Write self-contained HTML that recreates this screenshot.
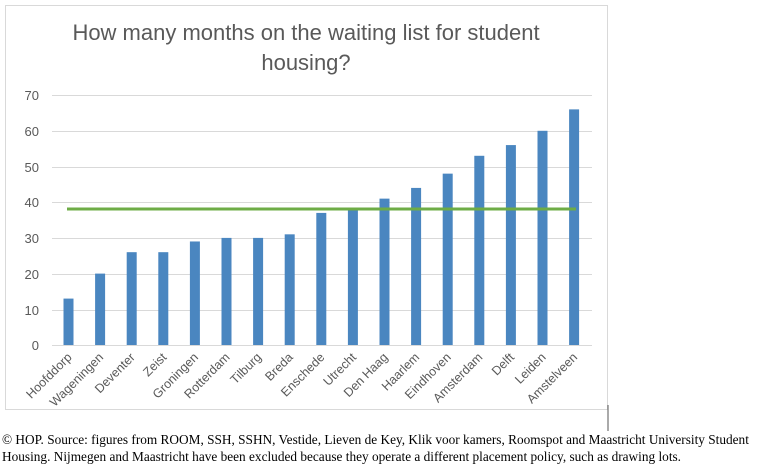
<!DOCTYPE html>
<html><head><style>
body{margin:0;background:#fff;width:768px;height:471px;overflow:hidden;position:relative}
.note{position:absolute;left:2px;top:431px;font-family:"Liberation Serif",serif;font-size:13.3px;line-height:17px;color:#000;white-space:nowrap}
</style></head><body>
<svg width="768" height="471" style="position:absolute;left:0;top:0" font-family="Liberation Sans, sans-serif">
<rect x="5.5" y="5.5" width="602" height="404" fill="#fff" stroke="#d9d9d9"/>
<line x1="608" y1="405" x2="608" y2="431" stroke="#555" stroke-width="1"/>
<text x="306" y="40" text-anchor="middle" font-size="22" fill="#595959">How many months on the waiting list for student</text>
<text x="306" y="70" text-anchor="middle" font-size="22" fill="#595959">housing?</text>
<g stroke="#d9d9d9" stroke-width="1">
<line x1="52" x2="592" y1="95.5" y2="95.5"/><line x1="52" x2="592" y1="131.5" y2="131.5"/>
<line x1="52" x2="592" y1="167.5" y2="167.5"/><line x1="52" x2="592" y1="202.5" y2="202.5"/>
<line x1="52" x2="592" y1="238.5" y2="238.5"/><line x1="52" x2="592" y1="274.5" y2="274.5"/>
<line x1="52" x2="592" y1="310.5" y2="310.5"/><line x1="52" x2="592" y1="345.5" y2="345.5"/>
</g>
<g font-size="13" fill="#595959" text-anchor="end">
<text x="39" y="100">70</text><text x="39" y="136">60</text><text x="39" y="172">50</text>
<text x="39" y="207">40</text><text x="39" y="243">30</text><text x="39" y="279">20</text>
<text x="39" y="315">10</text><text x="39" y="350">0</text>
</g>
<g fill="#4a86c0" id="bars"></g>
<line x1="67" x2="576" y1="209" y2="209" stroke="#6eac46" stroke-width="3"/>
<g id="labels" font-size="12.5" fill="#595959"></g>
</svg>
<div class="note">© HOP. Source: figures from ROOM, SSH, SSHN, Vestide, Lieven de Key, Klik voor kamers, Roomspot and Maastricht University Student<br>Housing. Nijmegen and Maastricht have been excluded because they operate a different placement policy, such as drawing lots.</div>
<script>
var d=[["Hoofddorp",13],["Wageningen",20],["Deventer",26],["Zeist",26],["Groningen",29],["Rotterdam",30],["Tilburg",30],["Breda",31],["Enschede",37],["Utrecht",38],["Den Haag",41],["Haarlem",44],["Eindhoven",48],["Amsterdam",53],["Delft",56],["Leiden",60],["Amstelveen",66]];
var ns="http://www.w3.org/2000/svg",b=document.getElementById("bars"),l=document.getElementById("labels");
d.forEach(function(e,i){var cx=68.5+i*31.6,h=e[1]*3.57;
var r=document.createElementNS(ns,"rect");r.setAttribute("x",cx-5);r.setAttribute("y",345-h);r.setAttribute("width",10);r.setAttribute("height",h);b.appendChild(r);
var t=document.createElementNS(ns,"text");t.setAttribute("text-anchor","end");t.setAttribute("transform","translate("+(cx+4)+",358) rotate(-45)");t.textContent=e[0];l.appendChild(t);});
</script>
</body></html>
